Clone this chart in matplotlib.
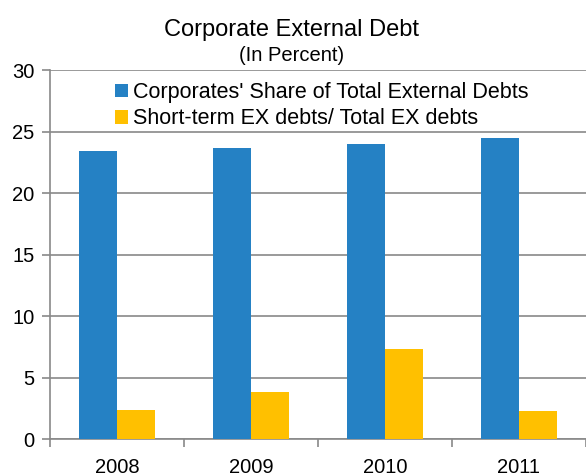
import matplotlib
matplotlib.use('Agg')
import matplotlib.pyplot as plt
import numpy as np

# Corporate external debt, percent
years = ['2008', '2009', '2010', '2011']
corp_share = [23.4, 23.7, 24.0, 24.5]
short_term_share = [2.4, 3.8, 7.3, 2.3]

BLUE = '#2581C4'
YELLOW = '#FFC000'
GREY = '#898989'

plt.rcParams['font.family'] = ['Liberation Sans', 'DejaVu Sans']

fig = plt.figure(figsize=(5.86, 4.76), dpi=100)
ax = fig.add_axes([0.0853, 0.0777, 0.9147, 0.775])

x = np.arange(len(years))
w = 0.285
ax.bar(x - w / 2, corp_share, w, color=BLUE, label="Corporates' Share of Total External Debts", zorder=3)
ax.bar(x + w / 2, short_term_share, w, color=YELLOW, label='Short-term EX debts/ Total EX debts', zorder=3)

ax.set_xlim(-0.5, len(years) - 0.5)
ax.set_ylim(0, 30)
ax.set_yticks(np.arange(0, 31, 5))
ax.set_xticks(x)
ax.set_xticklabels(years)
ax.set_xticks(np.arange(-0.5, len(years), 1), minor=True)

ax.grid(axis='y', color=GREY, linewidth=1.2, zorder=0)
for side in ['top', 'right']:
    ax.spines[side].set_visible(False)
for side in ['left', 'bottom']:
    ax.spines[side].set_color(GREY)
    ax.spines[side].set_linewidth(1.2)

ax.tick_params(axis='y', which='major', length=6, width=1.2, color=GREY, labelsize=14.5, pad=5)
ax.tick_params(axis='x', which='major', length=0, labelsize=14.5, pad=14)
ax.tick_params(axis='x', which='minor', length=6, width=1.2, color=GREY, direction='out')

fig.text(0.497, 0.937, 'Corporate External Debt', ha='center', va='center', fontsize=17)
fig.text(0.497, 0.884, '(In Percent)', ha='center', va='center', fontsize=14.5)

ax.legend(loc='upper left', bbox_to_anchor=(0.10, 1.0), frameon=False, fontsize=15.5,
          handlelength=0.6, handleheight=0.6, handletextpad=0.2, labelspacing=0.25,
          borderaxespad=0.15)

fig.savefig('out.png', dpi=100)
